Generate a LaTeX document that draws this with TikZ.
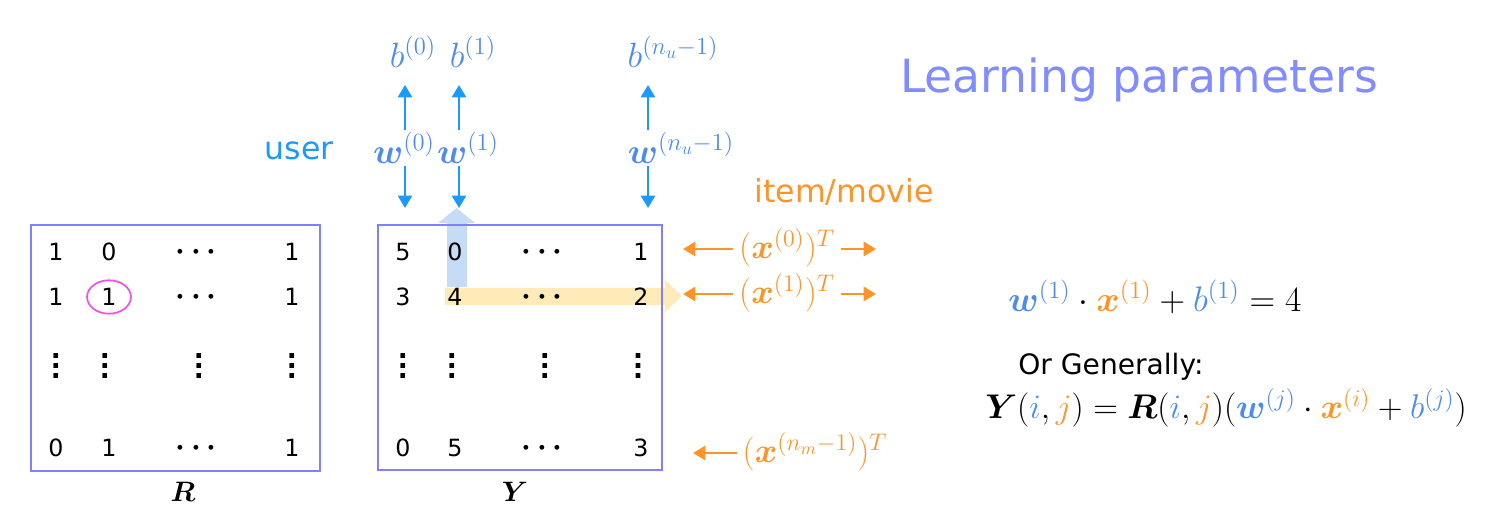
\RequirePackage{fix-cm}
\documentclass[tikz,border=0pt]{standalone}
\usepackage{amsmath,amssymb}
\usepackage[no-math]{fontspec}
\setmainfont{DejaVu Sans}
\usetikzlibrary{arrows.meta,positioning,shapes.geometric}
\definecolor{boxblue}{RGB}{128,128,255}
\definecolor{userblue}{RGB}{28,154,250}
\definecolor{mathblue}{RGB}{77,140,235}
\definecolor{itemorange}{RGB}{253,148,38}
\definecolor{titleblue}{RGB}{128,140,255}
\definecolor{bandblue}{RGB}{198,219,245}
\definecolor{bandyellow}{RGB}{255,234,184}
\definecolor{ringmag}{RGB}{240,80,240}

\newcommand{\wvec}[1]{{\color{mathblue}\boldsymbol{w}^{(#1)}}}
\newcommand{\xvec}[1]{{\color{itemorange}\boldsymbol{x}^{(#1)}}}
\newcommand{\bvec}[1]{{\color{mathblue}b^{(#1)}}}
\newcommand{\tallvdots}{\vbox{\baselineskip=5.8pt\lineskiplimit=0pt\hbox{\bfseries .}\hbox{\bfseries .}\hbox{\bfseries .}}}

\begin{document}
\begin{tikzpicture}[
  x=0.02cm, y=-0.02cm,
  >={Triangle[width=8pt,length=7pt]},
  entry/.style={font=\fontsize{13.5}{15}\selectfont, inner sep=0pt},
  dotsentry/.style={font=\fontsize{17.5}{20}\selectfont, inner sep=0pt},
  vdotsentry/.style={font=\fontsize{15}{17}\selectfont, inner sep=0pt},
  mbox/.style={draw=boxblue, line width=1.1pt, inner sep=0pt},
  mlabel/.style={font=\fontsize{16}{18}\selectfont, inner sep=1pt},
  param/.style={font=\fontsize{20}{22}\selectfont, inner sep=1pt},
  xlab/.style={text=itemorange, font=\fontsize{19.5}{22}\selectfont, inner sep=1pt},
  uarrow/.style={->, line width=1.3pt, draw=userblue},
  xarrow/.style={->, line width=1.5pt, draw=itemorange},
  word/.style={font=\fontsize{18}{21}\selectfont, inner sep=0pt},
  formula/.style={inner sep=0pt, anchor=west}
]
\useasboundingbox (0,0) rectangle (1512,520);

% highlighted column and row of Y
\fill[bandblue] (447,287) -- (447,223) -- (438,223) -- (456.5,208) -- (475,223) -- (467,223) -- (467,287) -- cycle;
\fill[bandyellow] (445,288) -- (665,288) -- (665,280) -- (682,296) -- (665,312) -- (665,305) -- (445,305) -- cycle;

% the two matrices
\node[mbox, minimum width=165pt, minimum height=139.5pt] (Rbox) at (175.5,348) {};
\node[mbox, minimum width=162pt, minimum height=139pt] (Ybox) at (520,347.5) {};
\node[mlabel] (Rlab) at (183,492) {$\boldsymbol{R}$};
\node[mlabel] (Ylab) at (515,492) {$\boldsymbol{Y}$};

\foreach \v/\cx [count=\k] in {1/56,0/109,1/292}
  \node[entry] (R-1-\k) at (\cx,252) {\v};
\foreach \v/\cx [count=\k] in {1/56,1/109,1/292}
  \node[entry] (R-2-\k) at (\cx,297) {\v};
\foreach \v/\cx [count=\k] in {0/56,1/109,1/292}
  \node[entry] (R-4-\k) at (\cx,448) {\v};
\foreach \ry [count=\k] in {252,297,448}
  \node[dotsentry] (R-h-\k) at (199,\ry) {$\boldsymbol{\cdots}$};
\foreach \cx [count=\k] in {56,105,199,292}
  \node[vdotsentry] (R-3-\k) at (\cx,366) {\tallvdots};

\foreach \v/\cx [count=\k] in {5/403,0/455,1/641}
  \node[entry] (Y-1-\k) at (\cx,252) {\v};
\foreach \v/\cx [count=\k] in {3/403,4/455,2/641}
  \node[entry] (Y-2-\k) at (\cx,297) {\v};
\foreach \v/\cx [count=\k] in {0/403,5/455,3/641}
  \node[entry] (Y-4-\k) at (\cx,448) {\v};
\foreach \ry [count=\k] in {252,297,448}
  \node[dotsentry] (Y-h-\k) at (545,\ry) {$\boldsymbol{\cdots}$};
\foreach \cx [count=\k] in {403,452,545,638}
  \node[vdotsentry] (Y-3-\k) at (\cx,366) {\tallvdots};

\node[ellipse, draw=ringmag, line width=1pt, minimum width=25pt, minimum height=19pt] (ring) at (R-2-2) {};

% user parameters
\node[word, text=userblue] (user) at (299,151) {user};
\node[param] (w0) at (404,148) {$\wvec{0}$};
\node[param] (w1) at (468,148) {$\wvec{1}$};
\node[param] (wn) at (681,148) {$\wvec{n_u-1}$};
\node[param] (b0) at (413,52) {$\bvec{0}$};
\node[param] (b1) at (473,52) {$\bvec{1}$};
\node[param] (bn) at (673,52) {$\bvec{n_u-1}$};

\coordinate (u0) at (405,85);
\coordinate (u1) at (459,85);
\coordinate (un) at (648,85);
\coordinate (d0) at (405,208);
\coordinate (d1) at (459,208);
\coordinate (dn) at (648,208);

\draw[uarrow] (w0.north -| u0) -- (u0);
\draw[uarrow] (w1.north -| u1) -- (u1);
\draw[uarrow] (wn.north -| un) -- (un);
\draw[uarrow] (w0.south -| d0) -- (d0);
\draw[uarrow] (w1.south -| d1) -- (d1);
\draw[uarrow] (wn.south -| dn) -- (dn);

% item parameters
\node[word, text=itemorange] (item) at (844,192) {item/movie};
\node[xlab] (x0) at (787,248) {$(\boldsymbol{x}^{(0)})^T$};
\node[xlab] (x1) at (787,293) {$(\boldsymbol{x}^{(1)})^T$};
\node[xlab] (xn) at (815,452) {$(\boldsymbol{x}^{(n_m-1)})^T$};

\coordinate (l0) at (683,249);
\coordinate (l1) at (683,294);
\coordinate (ln) at (693,453);
\coordinate (r0) at (876,249);
\coordinate (r1) at (876,294);

\draw[xarrow] (x0.west |- l0) ++(-4,0) -- (l0);
\draw[xarrow] (x1.west |- l1) ++(-4,0) -- (l1);
\draw[xarrow] (xn.west |- ln) ++(-4,0) -- (ln);
\draw[xarrow] (x0.east |- r0) ++(4,0) -- (r0);
\draw[xarrow] (x1.east |- r1) ++(4,0) -- (r1);

% title and formulas
\node[font=\fontsize{26}{30}\selectfont, text=titleblue] (title) at (1139,80) {Learning parameters};
\node[formula, font=\fontsize{20.2}{23}\selectfont] (example) at (1008,297) {$\wvec{1}\cdot\xvec{1}+\bvec{1}=4$};
\node[font=\fontsize{16}{19}\selectfont, anchor=west, inner sep=0pt] (general) at (1018,367) {Or Generally:};
\node[formula, font=\fontsize{19.5}{23}\selectfont] (rule) at (985,408) {$\boldsymbol{Y}({\color{mathblue}i},{\color{itemorange}j})=\boldsymbol{R}({\color{mathblue}i},{\color{itemorange}j})(\wvec{j}\cdot\xvec{i}+\bvec{j})$};
\end{tikzpicture}
\end{document}
